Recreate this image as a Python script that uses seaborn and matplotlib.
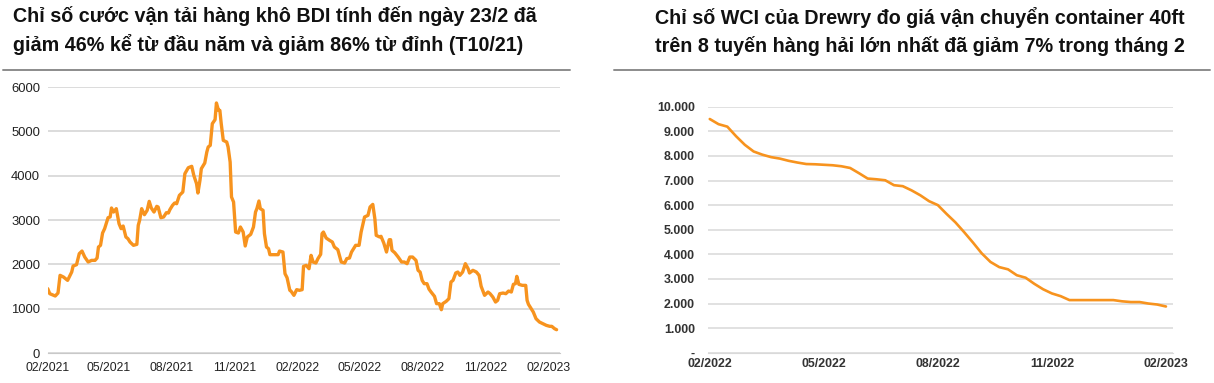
import pandas as pd
import matplotlib.pyplot as plt
import matplotlib.dates as mdates
import seaborn as sns
from matplotlib.ticker import FuncFormatter

# ------------------------
# Data
# ------------------------

# BDI: days since 01/02/2021 and index value
bdi_days = [0, 3, 11, 15, 18, 23, 29, 35, 37, 42, 46, 50, 54, 59, 64, 69, 72, 74, 77, 80,
            83, 88, 91, 93, 96, 100, 104, 107, 110, 114, 117, 120, 125, 130, 132, 134, 137, 141, 145, 148,
            151, 155, 159, 161, 165, 169, 173, 176, 178, 182, 185, 188, 192, 197, 200, 205, 210, 213, 217, 219,
            222, 224, 229, 232, 234, 237, 240, 244, 246, 249, 251, 253, 256, 261, 263, 266, 268, 271, 274, 278,
            281, 285, 288, 291, 296, 300, 303, 305, 308, 310, 314, 316, 319, 322, 324, 336, 338, 343, 346, 349,
            353, 355, 359, 363, 367, 371, 373, 377, 381, 384, 387, 391, 394, 398, 400, 402, 406, 411, 415, 418,
            423, 428, 433, 436, 440, 443, 446, 449, 454, 457, 462, 467, 470, 474, 477, 479, 484, 486, 490, 494,
            498, 500, 502, 506, 511, 516, 520, 524, 528, 532, 537, 540, 543, 546, 549, 553, 556, 559, 561, 564,
            567, 571, 574, 576, 581, 585, 588, 591, 595, 598, 601, 605, 609, 613, 615, 620, 625, 629, 632, 637,
            642, 645, 649, 653, 656, 659, 664, 668, 672, 676, 679, 682, 684, 687, 692, 697, 699, 701, 705, 708,
            712, 717, 722, 727, 732, 735, 739, 742]
bdi_values = [1451, 1338, 1286, 1353, 1752, 1714, 1639, 1827, 1962, 1992, 2241, 2300, 2165, 2053, 2090, 2090, 2143, 2391, 2429, 2707,
              2805, 3053, 3068, 3271, 3180, 3256, 2917, 2805, 2865, 2617, 2579, 2504, 2429, 2451, 2880, 2992, 3256, 3120, 3218, 3421,
              3271, 3180, 3308, 3293, 3053, 3068, 3165, 3158, 3230, 3331, 3383, 3368, 3556, 3632, 4045, 4180, 4211, 4008, 3820, 3609,
              3895, 4158, 4286, 4534, 4647, 4684, 5173, 5263, 5640, 5474, 5474, 5173, 4797, 4759, 4647, 4308, 3519, 3406, 2729, 2707,
              2842, 2729, 2414, 2617, 2677, 2842, 3180, 3256, 3429, 3256, 3218, 2692, 2391, 2353, 2218, 2218, 2300, 2278, 1789, 1699,
              1414, 1391, 1301, 1429, 1414, 1429, 1955, 1977, 1902, 2203, 2053, 2030, 2128, 2226, 2692, 2729, 2594, 2541, 2504, 2391,
              2331, 2053, 2030, 2128, 2143, 2278, 2353, 2429, 2429, 2729, 3068, 3105, 3293, 3353, 3030, 2654, 2617, 2632, 2481, 2278,
              2556, 2556, 2316, 2263, 2165, 2053, 2053, 2015, 2165, 2165, 2090, 1865, 1827, 1639, 1564, 1564, 1440, 1376, 1338, 1278,
              1113, 1113, 977, 1113, 1165, 1226, 1602, 1639, 1805, 1827, 1752, 1827, 2015, 1902, 1805, 1865, 1827, 1752, 1504, 1301,
              1376, 1338, 1263, 1150, 1188, 1338, 1353, 1338, 1398, 1376, 1549, 1564, 1729, 1549, 1526, 1526, 1188, 1098, 1000, 925,
              774, 699, 662, 624, 602, 602, 549, 526]

# WCI (Drewry): weekly values, 53 weeks from 02/2022 to 02/2023
wci_values = [9500, 9290, 9190, 8800, 8450, 8180, 8050, 7950, 7890, 7800,
              7730, 7670, 7660, 7640, 7620, 7580, 7510, 7300, 7080, 7050,
              7010, 6810, 6770, 6600, 6400, 6160, 6000, 5640, 5300, 4900,
              4480, 4040, 3690, 3480, 3390, 3150, 3050, 2800, 2580, 2410,
              2300, 2140, 2140, 2140, 2140, 2140, 2140, 2090, 2060, 2060,
              2000, 1960, 1880]
wci_tick_labels = ['02/2022', '05/2022', '08/2022', '11/2022', '02/2023']

left_title = ("Chỉ số cước vận tải hàng khô BDI tính đến ngày 23/2 đã\n"
              "giảm 46% kể từ đầu năm và giảm 86% từ đỉnh (T10/21)")
right_title = ("Chỉ số WCI của Drewry đo giá vận chuyển container 40ft\n"
               "trên 8 tuyến hàng hải lớn nhất đã giảm 7% trong tháng 2")

ORANGE = '#f7931e'
GRID = '#d9d9d9'

sns.set_style('white')
plt.rcParams['font.family'] = ['Liberation Sans', 'DejaVu Sans']

bdi = pd.DataFrame({
    'date': pd.Timestamp('2021-02-01') + pd.to_timedelta(bdi_days, unit='D'),
    'bdi': bdi_values,
})
wci = pd.DataFrame({'week': range(len(wci_values)), 'wci': wci_values})

fig = plt.figure(figsize=(12.14, 3.83), dpi=100)

# ------------------------
# Left: BDI
# ------------------------
ax1 = fig.add_axes([0.0393, 0.0783, 0.422, 0.6945])
sns.lineplot(data=bdi, x='date', y='bdi', ax=ax1, color=ORANGE, linewidth=2.4)
ax1.set_ylim(0, 6000)
ax1.set_yticks(range(0, 6001, 1000))
ax1.set_xlim(pd.Timestamp('2021-02-01'), pd.Timestamp('2023-02-18'))
ax1.set_xticks(pd.date_range('2021-02-01', '2023-02-01', freq='3MS'))
ax1.xaxis.set_major_formatter(mdates.DateFormatter('%m/%Y'))
ax1.yaxis.grid(True, color=GRID, linewidth=1.3)
ax1.set_axisbelow(True)
for s in ['top', 'right', 'left']:
    ax1.spines[s].set_visible(False)
ax1.spines['bottom'].set_color('#c8c8c8')
ax1.tick_params(axis='x', colors='#c8c8c8', length=4, width=1, labelcolor='#222222', labelsize=8.8, pad=2.5)
ax1.tick_params(axis='y', length=0, labelcolor='#222222', labelsize=9.4, pad=5.5)
ax1.set_xlabel('')
ax1.set_ylabel('')

# ------------------------
# Right: WCI
# ------------------------
ax2 = fig.add_axes([0.5832, 0.0790, 0.3830, 0.6424])
sns.lineplot(data=wci, x='week', y='wci', ax=ax2, color=ORANGE, linewidth=1.9)
ax2.set_ylim(0, 10000)
ax2.set_yticks(range(0, 10001, 1000))
ax2.yaxis.set_major_formatter(FuncFormatter(lambda v, p: '-' if v == 0 else f'{int(v):,}'.replace(',', '.')))
ax2.set_xlim(-0.2, 52.8)
ax2.set_xticks(range(0, 53, 13))
ax2.set_xticklabels(wci_tick_labels)
ax2.yaxis.grid(True, color=GRID, linewidth=1.1)
ax2.set_axisbelow(True)
for s in ['top', 'right', 'left']:
    ax2.spines[s].set_visible(False)
ax2.spines['bottom'].set_color(GRID)
ax2.tick_params(axis='x', length=0, labelcolor='#333333', labelsize=8.9, pad=4)
ax2.tick_params(axis='y', length=0, labelcolor='#333333', labelsize=8.9, pad=9.5)
for lbl in ax2.get_xticklabels() + ax2.get_yticklabels():
    lbl.set_fontweight('bold')
ax2.set_xlabel('')
ax2.set_ylabel('')

# ------------------------
# Titles and separators
# ------------------------
fig.text(13 / 1214, 1 - 6 / 383, left_title, ha='left', va='top', fontsize=14.2,
         fontweight='bold', color='#111111', linespacing=1.5)
fig.text(655 / 1214, 1 - 7 / 383, right_title, ha='left', va='top', fontsize=14.2,
         fontweight='bold', color='#111111', linespacing=1.5)
fig.add_artist(plt.Line2D([3 / 1214, 570 / 1214], [1 - 70 / 383] * 2, color='#8c8c8c', linewidth=1.4))
fig.add_artist(plt.Line2D([614 / 1214, 1210 / 1214], [1 - 70 / 383] * 2, color='#8c8c8c', linewidth=1.4))

fig.savefig('out.png', dpi=100)
